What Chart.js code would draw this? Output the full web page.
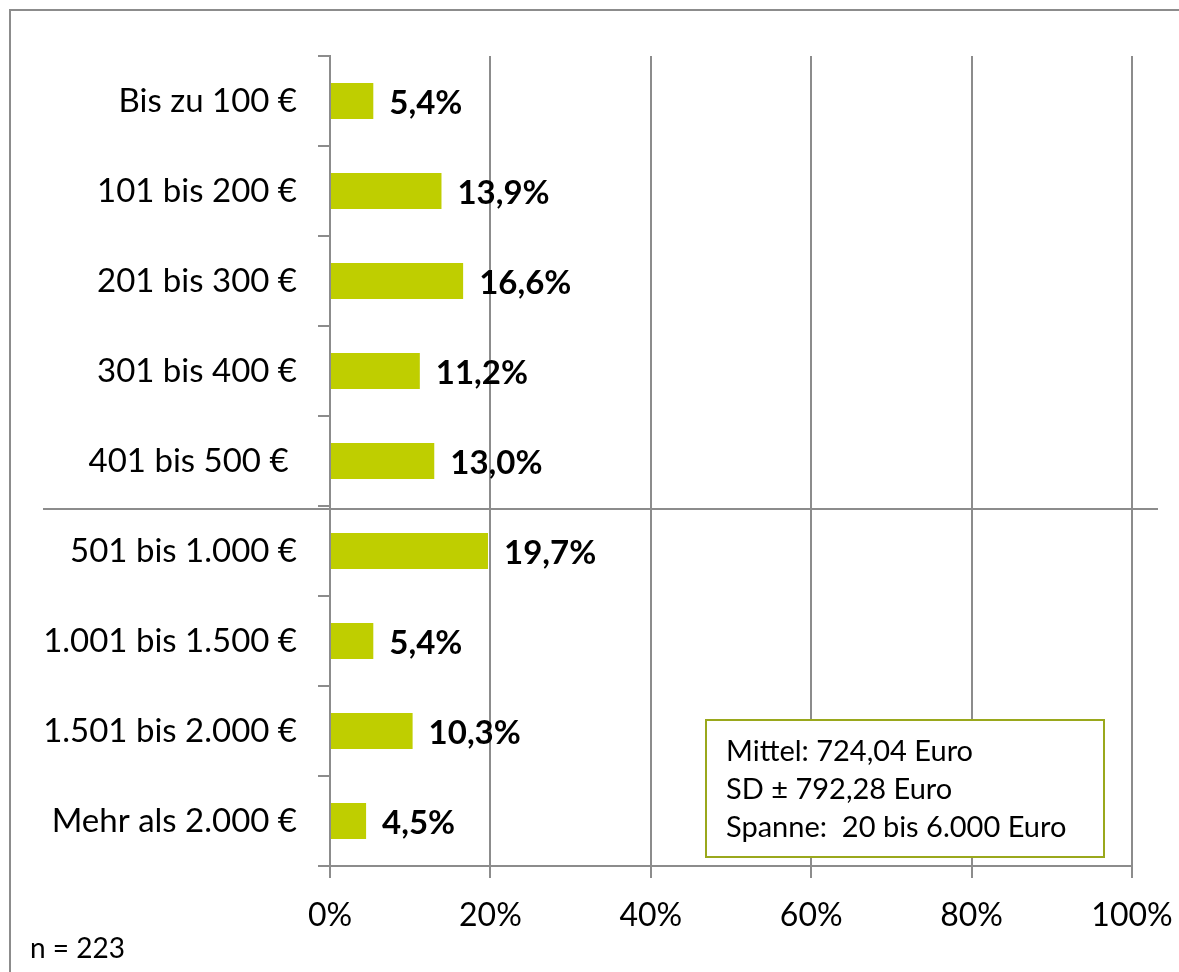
<!DOCTYPE html>
<html>
<head>
<meta charset="utf-8">
<script src="https://cdn.jsdelivr.net/npm/chart.js@4"></script>
<style>
html,body{margin:0;padding:0;background:#fff;}
#wrap{position:relative;width:1179px;height:972px;}
</style>
</head>
<body>
<div id="wrap"><canvas id="c" width="1179" height="972"></canvas></div>
<script>
const categories = ["Bis zu 100 €","101 bis 200 €","201 bis 300 €","301 bis 400 €","401 bis 500 € ","501 bis 1.000 €","1.001 bis 1.500 €","1.501 bis 2.000 €","Mehr als 2.000 €"];
const values = [5.4, 13.9, 16.6, 11.2, 13.0, 19.7, 5.4, 10.3, 4.5];
const valueLabels = ["5,4%","13,9%","16,6%","11,2%","13,0%","19,7%","5,4%","10,3%","4,5%"];
const xTicks = [0,20,40,60,80,100];
const statsLines = ["Mittel: 724,04 Euro","SD ± 792,28 Euro","Spanne:  20 bis 6.000 Euro"];
const sampleNote = "n = 223";

const FONT = "Lato, 'Open Sans', sans-serif";
const GRID = "#8c8c8c";

const overlay = {
  id: 'overlay',
  beforeDraw(chart){
    const ctx = chart.ctx;
    ctx.save();
    ctx.fillStyle = '#fff';
    ctx.fillRect(0,0,chart.width,chart.height);
    ctx.strokeStyle = '#8c8c8c';
    ctx.lineWidth = 2;
    ctx.beginPath();
    ctx.moveTo(10, chart.height);
    ctx.lineTo(10, 10);
    ctx.lineTo(chart.width, 10);
    ctx.stroke();
    ctx.restore();
  },
  afterDatasetsDraw(chart){
    const ctx = chart.ctx;
    const meta = chart.getDatasetMeta(0);
    ctx.save();
    ctx.fillStyle = '#000';
    ctx.font = "bold 33px " + FONT;
    ctx.textAlign = 'left';
    ctx.textBaseline = 'middle';
    meta.data.forEach((bar, i) => {
      ctx.fillText(valueLabels[i], bar.x + 16, bar.y + 2);
    });
    // separator line between 5th and 6th category
    const ys = chart.scales.y;
    const sepY = (ys.getPixelForValue(4) + ys.getPixelForValue(5)) / 2 + 3;
    ctx.strokeStyle = GRID;
    ctx.lineWidth = 2;
    ctx.beginPath();
    ctx.moveTo(43, sepY);
    ctx.lineTo(1158, sepY);
    ctx.stroke();
    // stats box
    const bx = 706, by = 720, bw = 398, bh = 137;
    ctx.fillStyle = '#fff';
    ctx.fillRect(bx, by, bw, bh);
    ctx.strokeStyle = '#9aa81c';
    ctx.lineWidth = 2;
    ctx.strokeRect(bx, by, bw, bh);
    ctx.fillStyle = '#000';
    ctx.font = "29px " + FONT;
    ctx.textBaseline = 'middle';
    statsLines.forEach((t, i) => ctx.fillText(t, bx + 20, by + 32 + i * 38));
    // n note
    ctx.font = "28px " + FONT;
    ctx.fillText(sampleNote, 30, 949);
    ctx.restore();
  }
};

new Chart(document.getElementById('c'), {
  type: 'bar',
  data: {
    labels: categories,
    datasets: [{
      data: values,
      backgroundColor: '#bfce00',
      borderWidth: 0,
      categoryPercentage: 1,
      barPercentage: 0.4
    }]
  },
  options: {
    indexAxis: 'y',
    responsive: false,
    animation: false,
    devicePixelRatio: 1,
    layout: { padding: { top: 56, right: 47, left: 0, bottom: 0 } },
    plugins: { legend: { display: false }, tooltip: { enabled: false } },
    scales: {
      x: {
        min: 0, max: 100,
        afterBuildTicks(scale){ scale.ticks = xTicks.map(v => ({value: v})); },
        afterFit(scale){ scale.height = 106; scale.paddingLeft = 0; scale.paddingRight = 0; },
        ticks: {
          callback: v => v + '%',
          color: '#000',
          font: { family: FONT, size: 32 },
          padding: 18,
          maxRotation: 0
        },
        grid: { color: GRID, lineWidth: 2, tickLength: 12 },
        border: { color: GRID, width: 2 }
      },
      y: {
        afterFit(scale){ scale.width = 330; scale.paddingTop = 0; scale.paddingBottom = 0; },
        ticks: {
          color: '#000',
          font: { family: FONT, size: 33 },
          padding: 21
        },
        grid: { drawOnChartArea: false, drawTicks: true, tickLength: 12, color: GRID, lineWidth: 2, offset: true },
        border: { color: GRID, width: 2 }
      }
    }
  },
  plugins: [overlay]
});
</script>
</body>
</html>
